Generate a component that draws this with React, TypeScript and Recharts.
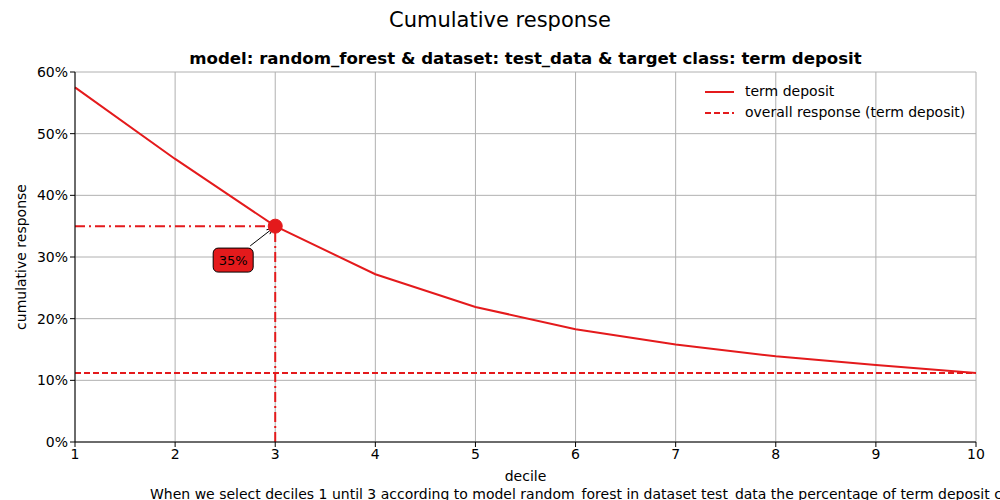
import React from 'react';
import {
  ComposedChart,
  Line,
  XAxis,
  YAxis,
  CartesianGrid,
  ReferenceLine,
  ReferenceDot,
} from 'recharts';

// cumulative response per decile
const deciles = [1, 2, 3, 4, 5, 6, 7, 8, 9, 10];
const cumResponse = [0.575, 0.459, 0.35, 0.272, 0.219, 0.183, 0.158, 0.139, 0.125, 0.112];
const overallResponse = 0.112;
const yTicks = [0, 0.1, 0.2, 0.3, 0.4, 0.5, 0.6];

const selectedDecile = 3;
const selectedValue = 0.35;
// annotation box position (data coords)
const noteAt = { x: 2.58, y: 0.295 };

const RED = '#e41a1c';
const FONT = 'DejaVu Sans, sans-serif';

const data = deciles.map((d, i) => ({ decile: d, value: cumResponse[i] }));

const pct = (v: number) => `${Math.round(v * 100)}%`;

const LegendBox = () => (
  <div style={{ fontFamily: FONT, fontSize: 14, color: '#000', lineHeight: '21px' }}>
    <div style={{ display: 'flex', alignItems: 'center' }}>
      <svg width={40} height={10}>
        <line x1={0} y1={5} x2={29} y2={5} stroke={RED} strokeWidth={2} />
      </svg>
      <span>term deposit</span>
    </div>
    <div style={{ display: 'flex', alignItems: 'center' }}>
      <svg width={40} height={10}>
        <line x1={0} y1={5} x2={29} y2={5} stroke={RED} strokeWidth={2} strokeDasharray="6 3" />
      </svg>
      <span>overall response (term deposit)</span>
    </div>
  </div>
);

const NoteBox = (props: any) => {
  const { cx, cy } = props;
  return (
    <g>
      <rect x={cx - 20} y={cy - 12} width={40} height={24} rx={5} fill={RED} stroke="#000" strokeWidth={1} />
      <text x={cx} y={cy + 5} textAnchor="middle" fontFamily={FONT} fontSize={13} fill="#000">
        {pct(selectedValue)}
      </text>
    </g>
  );
};

const Arrow = (props: any) => {
  const { x1, y1, x2, y2 } = props;
  if ([x1, y1, x2, y2].some((v) => v == null)) return null;
  const ang = Math.atan2(y2 - y1, x2 - x1);
  const h = 7;
  const a1 = ang + Math.PI - 0.4;
  const a2 = ang + Math.PI + 0.4;
  return (
    <g>
      <line x1={x1} y1={y1} x2={x2} y2={y2} stroke="#000" strokeWidth={1} />
      <polyline
        points={`${x2 + h * Math.cos(a1)},${y2 + h * Math.sin(a1)} ${x2},${y2} ${x2 + h * Math.cos(a2)},${y2 + h * Math.sin(a2)}`}
        fill="none"
        stroke="#000"
        strokeWidth={1}
      />
    </g>
  );
};

const App = () => {
  return (
    <div style={{ position: 'absolute', left: 0, top: 0, width: 1000, height: 500, background: '#fff', overflow: 'hidden' }}>
      <ComposedChart
        width={1000}
        height={500}
        data={data}
        margin={{ top: 72, right: 24, left: 0, bottom: 0 }}
        style={{ fontFamily: FONT }}
      >
        <CartesianGrid stroke="#b0b0b0" strokeWidth={1} />
        <XAxis
          dataKey="decile"
          type="number"
          domain={[1, 10]}
          ticks={deciles}
          height={58}
          stroke="#000"
          tickSize={5}
          tick={{ fill: '#000', fontSize: 14 }}
          label={{ value: 'decile', position: 'insideTop', offset: 29, fill: '#000', fontSize: 14 }}
        />
        <YAxis
          type="number"
          domain={[0, 0.6]}
          ticks={yTicks}
          width={75}
          stroke="#000"
          tickSize={5}
          tickFormatter={pct}
          tick={{ fill: '#000', fontSize: 14 }}
          label={{ value: 'cumulative response', angle: -90, position: 'insideLeft', offset: 21, fill: '#000', fontSize: 14, style: { textAnchor: 'middle' } }}
        />
        <ReferenceLine y={overallResponse} stroke={RED} strokeWidth={2} strokeDasharray="6 3" />
        <Line
          dataKey="value"
          stroke={RED}
          strokeWidth={2}
          dot={false}
          isAnimationActive={false}
          type="linear"
        />
        <ReferenceLine
          segment={[{ x: 1, y: selectedValue }, { x: selectedDecile, y: selectedValue }]}
          stroke={RED}
          strokeWidth={2}
          strokeDasharray="10 4 2 4"
        />
        <ReferenceLine
          segment={[{ x: selectedDecile, y: 0 }, { x: selectedDecile, y: selectedValue }]}
          stroke={RED}
          strokeWidth={2}
          strokeDasharray="10 4 2 4"
        />
        <ReferenceDot x={selectedDecile} y={selectedValue} r={7} fill={RED} stroke={RED} />
        <ReferenceLine
          segment={[{ x: 2.75, y: 0.318 }, { x: 2.98, y: 0.347 }]}
          shape={<Arrow />}
        />
        <ReferenceDot x={noteAt.x} y={noteAt.y} r={1} shape={<NoteBox />} />
      </ComposedChart>
      <div style={{ position: 'absolute', top: 8, width: 1000, textAlign: 'center', fontFamily: FONT, fontSize: 21 }}>
        Cumulative response
      </div>
      <div style={{ position: 'absolute', top: 49, left: 75, width: 901, textAlign: 'center', fontFamily: FONT, fontSize: 16.6, fontWeight: 'bold' }}>
        model: random_forest &amp; dataset: test_data &amp; target class: term deposit
      </div>
      <div style={{ position: 'absolute', top: 81, left: 705 }}>
        <LegendBox />
      </div>
      <div style={{ position: 'absolute', top: 486, left: 150, whiteSpace: 'nowrap', fontFamily: FONT, fontSize: 14 }}>
        When we select deciles 1 until 3 according to model random_forest in dataset test_data the percentage of term deposit cases in the selection is 35%.
      </div>
    </div>
  );
};

export default App;
